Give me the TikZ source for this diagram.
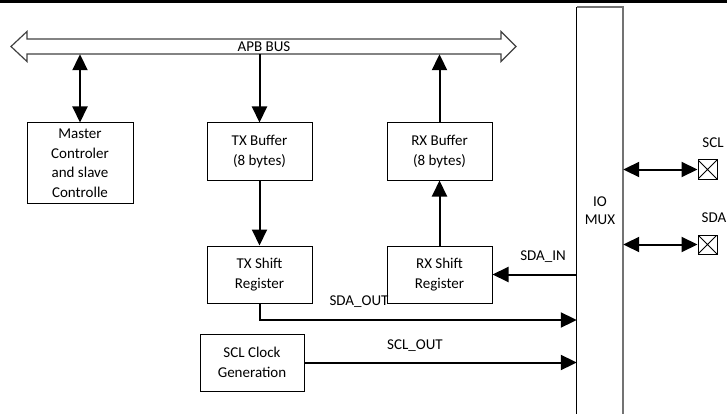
\documentclass[tikz,border=0pt]{standalone}
\usepackage{fontspec}
\setmainfont{Carlito}
\usetikzlibrary{arrows.meta}
\begin{document}
\begin{tikzpicture}[x=1pt,y=-1pt,
  every node/.style={font=\fontsize{15}{19.5}\selectfont},
  box/.style={draw, line width=1pt, inner sep=0pt, align=center},
  arr/.style={line width=2pt, -{Triangle[length=16pt,width=15pt]}},
  dbl/.style={line width=2pt, {Triangle[length=16pt,width=15pt]}-{Triangle[length=16pt,width=15pt]}},
  pin/.style={draw, line width=1pt, inner sep=0pt, minimum width=19pt, minimum height=19pt,
    path picture={\draw[line width=1pt] (path picture bounding box.south west) -- (path picture bounding box.north east)
      (path picture bounding box.north west) -- (path picture bounding box.south east);}},
  lbl/.style={inner sep=0pt}
]
\useasboundingbox (0,0) rectangle (727,414);
\fill (0,0) rectangle (727,3);

% APB bus
\draw[black!75, line width=1.2pt] (11,46.5) -- (27,31.5) -- (27,39) -- (501,39) -- (501,31.5) -- (516,46.5)
  -- (501,61.5) -- (501,54) -- (27,54) -- (27,61.5) -- cycle;
\node[inner sep=0pt, minimum width=474pt, minimum height=15pt] (bus) at (264,46.5) {APB BUS};

% boxes
\node[box, minimum width=106pt, minimum height=80pt] (master) at (80,163) {Master\\Controler\\and slave\\Controlle};
\node[box, minimum width=105pt, minimum height=57pt] (txbuf) at (259.5,151.5) {TX Buffer\\(8 bytes)};
\node[box, minimum width=105pt, minimum height=57pt] (rxbuf) at (439.5,151.5) {RX Buffer\\(8 bytes)};
\node[box, minimum width=105pt, minimum height=57pt] (txsh) at (259.5,274.5) {TX Shift\\Register};
\node[box, minimum width=105pt, minimum height=57pt] (rxsh) at (439.5,274.5) {RX Shift\\Register};
\node[box, minimum width=104pt, minimum height=57pt] (sclgen) at (252,362.5) {SCL Clock\\Generation};

% IO MUX
\node[inner sep=0pt, minimum width=46pt, minimum height=407pt, align=center, font=\fontsize{15}{18}\selectfont] (iomux) at (600,210.5) {IO\\MUX};
\draw[line width=1pt] (iomux.south west) -- (iomux.north west);
\draw[black!55, line width=1.8pt] (iomux.north west) -- (iomux.north east) -- (iomux.south east);

% pins
\node[pin] (sclpin) at (707.5,169.5) {};
\node[pin] (sdapin) at (707.5,244.5) {};
\node[lbl] (scllbl) at (713,143) {SCL};
\node[lbl] (sdalbl) at (714,218) {SDA};

% connectors
\draw[dbl] (master.north) -- (master.north |- bus.south);
\draw[arr] (txbuf.north |- bus.south) -- (txbuf.north);
\draw[arr] (rxbuf.north) -- (rxbuf.north |- bus.south);
\draw[arr] (txbuf.south) -- (txsh.north);
\draw[arr] (rxsh.north) -- (rxbuf.south);
\draw[arr] (iomux.west |- rxsh.east) -- (rxsh.east);
\coordinate (sdaY) at (0,320);
\draw[arr] (txsh.south) |- (iomux.west |- sdaY);
\draw[arr] (sclgen.east) -- (iomux.west |- sclgen.east);
\draw[dbl] (iomux.east |- sclpin.west) -- (sclpin.west);
\draw[dbl] (iomux.east |- sdapin.west) -- (sdapin.west);

% labels
\node[lbl] (sdainlbl) at (543,257) {SDA\_IN};
\node[lbl] (sdaoutlbl) at (359,302) {SDA\_OUT};
\node[lbl] (scloutlbl) at (415,346) {SCL\_OUT};
\end{tikzpicture}
\end{document}
